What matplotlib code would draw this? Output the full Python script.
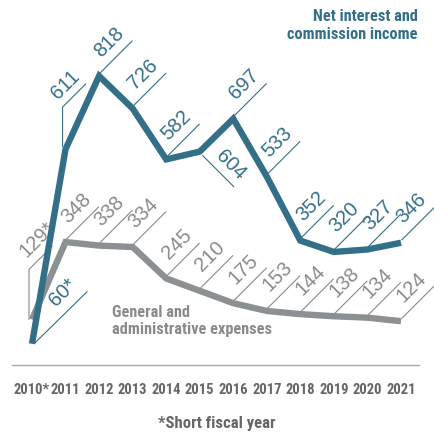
import numpy as np
import matplotlib.pyplot as plt
import matplotlib.transforms as mtransforms
from matplotlib import font_manager

years = ['2010*', '2011', '2012', '2013', '2014', '2015', '2016', '2017',
         '2018', '2019', '2020', '2021']
income = [60, 611, 818, 726, 582, 604, 697, 533, 352, 320, 327, 346]
expenses = [129, 348, 338, 334, 245, 210, 175, 153, 144, 138, 134, 124]
income_labels = ['60*', '611', '818', '726', '582', '604', '697', '533',
                 '352', '320', '327', '346']
expense_labels = ['129*', '348', '338', '334', '245', '210', '175', '153',
                  '144', '138', '134', '124']

BLUE = '#336f87'
GRAY = '#8c9092'
GRAY_TXT = '#8a8a8a'
DARK = '#666666'

names = {f.name for f in font_manager.fontManager.ttflist}
NARROW = next((f for f in ['Liberation Sans Narrow', 'Roboto Condensed',
                           'Open Sans Condensed', 'Roboto'] if f in names),
              'DejaVu Sans')

fig = plt.figure(figsize=(4.35, 4.39), dpi=100)
ax = fig.add_axes([32 / 435, 73 / 439, 369 / 435, 289 / 439])
ax.set_xlim(0, 11)
ax.set_ylim(0, 818)
ax.set_axis_off()

xs = np.arange(len(years))

ax.plot(xs, expenses, color=GRAY, lw=4.6, solid_joinstyle='miter',
        solid_capstyle='butt', clip_on=False, zorder=2)
ax.plot(xs, income, color=BLUE, lw=4.6, solid_joinstyle='miter',
        solid_capstyle='butt', clip_on=False, zorder=3)

# baseline
ax.plot([-0.6, 11.54], [0, 0], color='#a8a8a8', lw=1.0, clip_on=False)

S = 1 / np.sqrt(2)


def value_label(x, y, txt, color, path=None, base=(0, 0), along=15.5, perp=12, down=False):
    # leader drawn in pixel offsets around the data point
    tr = mtransforms.IdentityTransform() + mtransforms.ScaledTranslation(x, y, ax.transData)
    if path is None:
        path = [(3, -4), (34, -35)] if down else [(1, 3), (33, 35)]
    px, py = zip(*path)
    ax.plot(px, py, color=color, lw=0.8, transform=tr, clip_on=False, zorder=1)
    if down:
        u, n, rot = (S, -S), (S, S), -45
    else:
        u, n, rot = (S, S), (-S, S), 45
    tx = base[0] + along * u[0] + perp * n[0]
    ty = base[1] + along * u[1] + perp * n[1]
    ax.annotate(txt, (x, y), xytext=(tx, ty), textcoords='offset pixels',
                rotation=rot, rotation_mode='anchor', ha='left', va='baseline',
                color=color, fontsize=14.5, family='Liberation Sans',
                annotation_clip=False)


income_opts = {
    0: dict(path=[(3, 1), (55, 52)], base=(3, 1), along=41, perp=11),
    1: dict(path=[(-3, 3), (-3, 42), (20, 65)], base=(-3, 42), along=2, perp=9),
    5: dict(down=True, along=14, perp=7.5),
}
expense_opts = {
    0: dict(path=[(-3, 0), (-3, 50), (20, 73)], base=(-3, 50), along=7, perp=10),
}

for i in xs:
    value_label(i, income[i], income_labels[i], BLUE, **income_opts.get(i, {}))
    value_label(i, expenses[i], expense_labels[i], GRAY_TXT, **expense_opts.get(i, {}))

for i in xs:
    ax.annotate(years[i], (i, 0), xytext=(0, -24), textcoords='offset pixels',
                ha='center', va='center', color=DARK, fontsize=10.5,
                family=NARROW, fontweight='bold', annotation_clip=False)

fig.text(418 / 435, 1 - 9 / 439, 'Net interest and\ncommission income',
         ha='right', va='top', color=BLUE, fontsize=11.7, family=NARROW,
         fontweight='bold', linespacing=1.22)
fig.text(112 / 435, 1 - 305 / 439, 'General and\nadministrative expenses',
         ha='left', va='top', color=GRAY_TXT, fontsize=11.7, family=NARROW,
         fontweight='bold', linespacing=1.15)
fig.text(0.4988, 1 - 424 / 439, '*Short fiscal year', ha='center', va='center',
         color=DARK, fontsize=12, family=NARROW, fontweight='bold')

fig.savefig('out.png', dpi=100)
